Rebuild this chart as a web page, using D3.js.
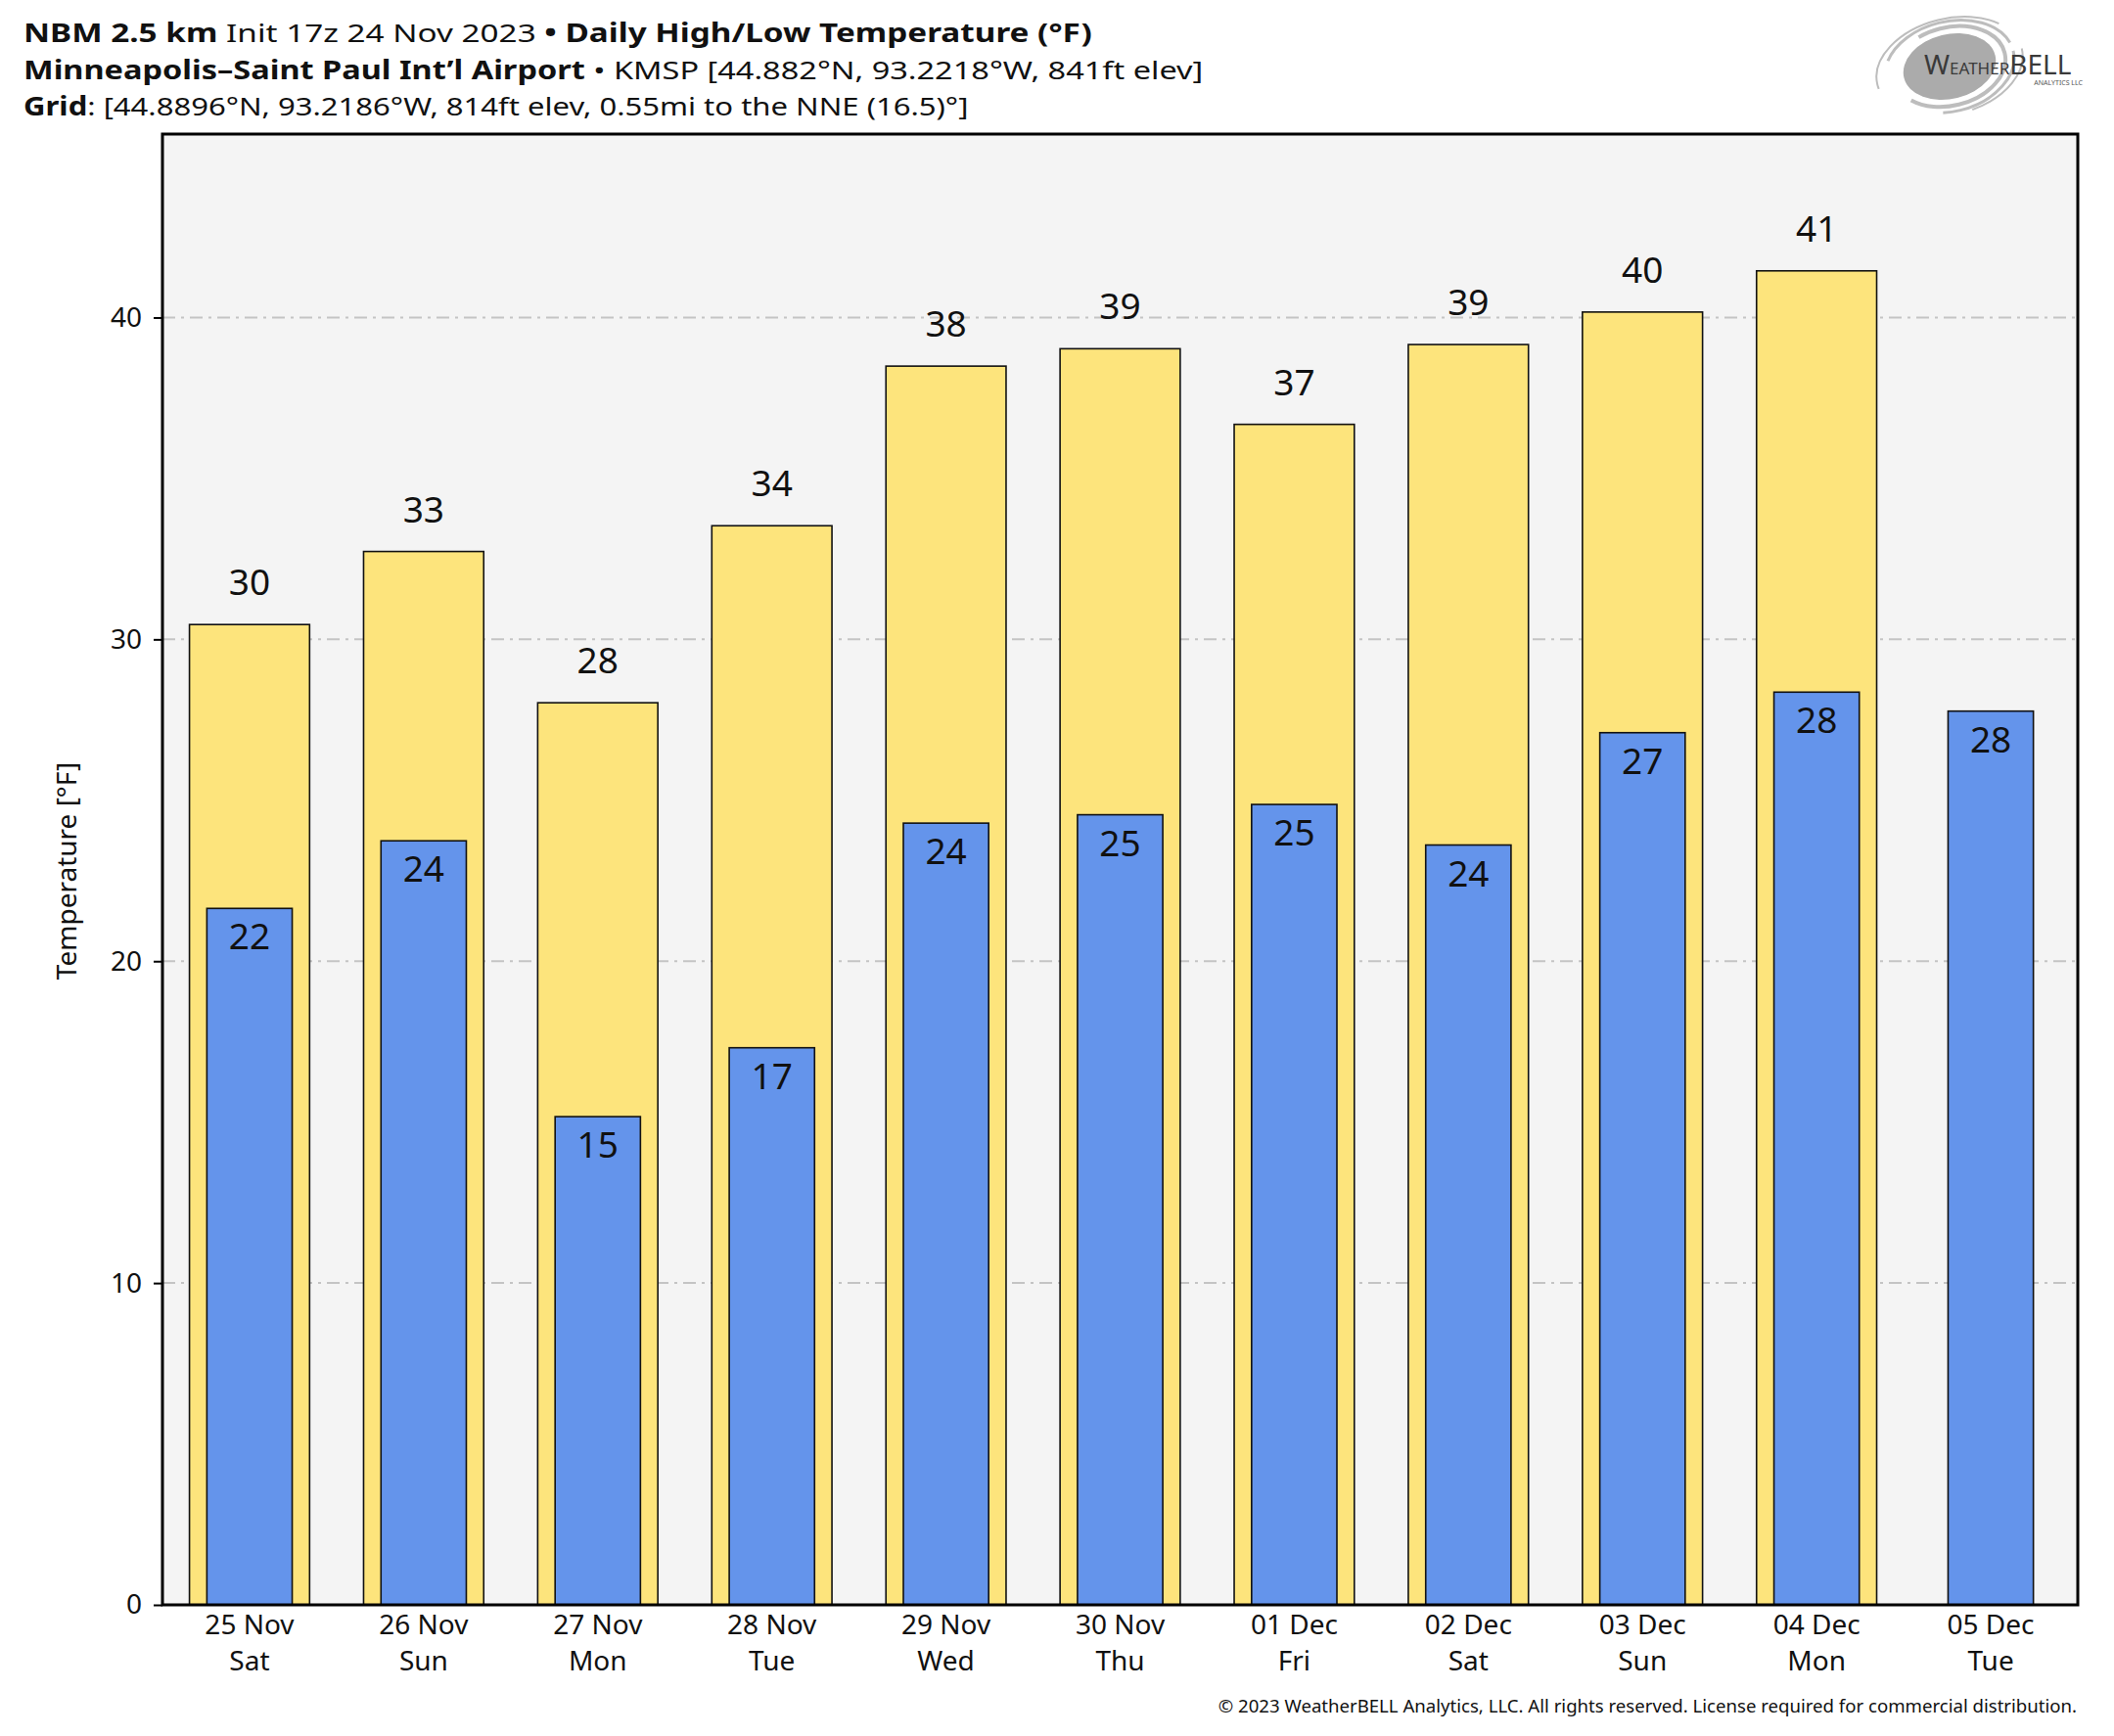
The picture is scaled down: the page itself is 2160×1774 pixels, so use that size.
<!DOCTYPE html>
<html>
<head>
<meta charset="utf-8">
<script src="https://cdn.jsdelivr.net/npm/d3@7"></script>
<style>
  body { margin: 0; background: #fff; }
  text { font-family: "Noto Sans", sans-serif; }
</style>
</head>
<body>
<script>
// daily forecast values
const dates = ["25 Nov", "26 Nov", "27 Nov", "28 Nov", "29 Nov", "30 Nov", "01 Dec", "02 Dec", "03 Dec", "04 Dec", "05 Dec"];
const weekdays = ["Sat", "Sun", "Mon", "Tue", "Wed", "Thu", "Fri", "Sat", "Sun", "Mon", "Tue"];
const highs = [30.46, 32.73, 28.03, 33.53, 38.49, 39.03, 36.68, 39.16, 40.17, 41.45, null];
const lows = [21.64, 23.74, 15.17, 17.31, 24.29, 24.55, 24.87, 23.61, 27.10, 28.36, 27.77];
const yTicks = [0, 10, 20, 30, 40];

const W = 2160, H = 1774;
const pl = 166, pr = 2123, pt = 137, pb = 1640;

const svg = d3.select("body").append("svg")
    .attr("width", W)
    .attr("height", H);

const x = d3.scaleBand()
    .domain(d3.range(dates.length))
    .range([pl, pr])
    .padding(0);

const y = d3.scaleLinear()
    .domain([0, 45.7])
    .range([pb, pt]);

// plot background
svg.append("rect")
    .attr("x", pl).attr("y", pt)
    .attr("width", pr - pl).attr("height", pb - pt)
    .attr("fill", "#f4f4f4");

// dash-dot grid
svg.append("g")
  .selectAll("line")
  .data(yTicks.filter(d => d > 0))
  .join("line")
    .attr("x1", pl).attr("x2", pr)
    .attr("y1", d => y(d)).attr("y2", d => y(d))
    .attr("stroke", "#c4c4c4")
    .attr("stroke-width", 2)
    .attr("stroke-dasharray", "13,6,3,6");

const bw = x.bandwidth();
const hiW = bw * 0.69, loW = bw * 0.49;

// highs (yellow)
svg.append("g")
  .selectAll("rect")
  .data(highs.map((v, i) => ({ v, i })).filter(d => d.v != null))
  .join("rect")
    .attr("x", d => x(d.i) + (bw - hiW) / 2)
    .attr("y", d => y(d.v))
    .attr("width", hiW)
    .attr("height", d => y(0) - y(d.v))
    .attr("fill", "#fde47c")
    .attr("stroke", "#111")
    .attr("stroke-width", 1.6);

// lows (blue)
svg.append("g")
  .selectAll("rect")
  .data(lows.map((v, i) => ({ v, i })))
  .join("rect")
    .attr("x", d => x(d.i) + (bw - loW) / 2)
    .attr("y", d => y(d.v))
    .attr("width", loW)
    .attr("height", d => y(0) - y(d.v))
    .attr("fill", "#6494eb")
    .attr("stroke", "#111")
    .attr("stroke-width", 1.6);

// value labels
svg.append("g")
  .selectAll("text")
  .data(highs.map((v, i) => ({ v, i })).filter(d => d.v != null))
  .join("text")
    .attr("x", d => x(d.i) + bw / 2)
    .attr("y", d => y(d.v) - 30)
    .attr("text-anchor", "middle")
    .attr("font-size", 37)
    .attr("fill", "#111")
    .text(d => Math.round(d.v));

svg.append("g")
  .selectAll("text")
  .data(lows.map((v, i) => ({ v, i })))
  .join("text")
    .attr("x", d => x(d.i) + bw / 2)
    .attr("y", d => y(d.v) + 42)
    .attr("text-anchor", "middle")
    .attr("font-size", 37)
    .attr("fill", "#111")
    .text(d => Math.round(d.v));

// frame
svg.append("rect")
    .attr("x", pl).attr("y", pt)
    .attr("width", pr - pl).attr("height", pb - pt)
    .attr("fill", "none")
    .attr("stroke", "#000")
    .attr("stroke-width", 3);

// y axis
const yAxis = svg.append("g")
    .attr("transform", `translate(${pl},0)`)
    .call(d3.axisLeft(y).tickValues(yTicks).tickSize(9).tickPadding(12));
yAxis.select(".domain").remove();
yAxis.selectAll("line").attr("stroke", "#000").attr("stroke-width", 2);
yAxis.selectAll("text")
    .attr("font-size", 28)
    .attr("fill", "#111")
    .style("font-family", "Noto Sans");

// x axis, two-line labels
const xAxis = svg.append("g")
    .attr("transform", `translate(0,${pb})`)
    .call(d3.axisBottom(x).tickSize(0).tickFormat(""));
xAxis.select(".domain").remove();
xAxis.selectAll(".tick").each(function(d) {
  const t = d3.select(this).append("text")
      .attr("text-anchor", "middle")
      .attr("fill", "#111")
      .attr("font-size", 28)
      .style("font-family", "Noto Sans");
  t.append("tspan").attr("x", 0).attr("y", 30).text(dates[d]);
  t.append("tspan").attr("x", 0).attr("y", 67).text(weekdays[d]);
});

// y label
svg.append("text")
    .attr("transform", `translate(78,890) rotate(-90)`)
    .attr("text-anchor", "middle")
    .attr("font-size", 28)
    .attr("fill", "#111")
    .text("Temperature [°F]");

// header: wide-set text, stretched to the reference line widths
const header = [
  [["NBM 2.5 km", true], [" Init 17z 24 Nov 2023 ", false], ["• Daily High/Low Temperature (°F)", true]],
  [["Minneapolis–Saint Paul Int’l Airport", true], [" • KMSP [44.882°N, 93.2218°W, 841ft elev]", false]],
  [["Grid", true], [": [44.8896°N, 93.2186°W, 814ft elev, 0.55mi to the NNE (16.5)°]", false]]
];
const lineY = [43, 81, 118];
const lineW = [1092, 1206, 966];
header.forEach((parts, k) => {
  const t = svg.append("text")
      .attr("x", 0).attr("y", 0)
      .attr("font-size", 26)
      .attr("fill", "#111");
  parts.forEach(([s, b]) => t.append("tspan").attr("font-weight", b ? "bold" : "normal").text(s));
  const w = t.node().getComputedTextLength();
  t.attr("transform", `translate(24,${lineY[k]}) scale(${lineW[k] / w},1)`);
});

// copyright
svg.append("text")
    .attr("x", 2122).attr("y", 1750)
    .attr("text-anchor", "end")
    .attr("font-size", 18.6)
    .attr("fill", "#111")
    .text("© 2023 WeatherBELL Analytics, LLC. All rights reserved. License required for commercial distribution.");

// logo
const logo = svg.append("g").attr("transform", "translate(1992,68) rotate(-14)");
logo.append("ellipse").attr("rx", 48).attr("ry", 33).attr("fill", "#ababab");
[[58, 40], [67, 46], [76, 49]].forEach(([rx, ry], k) => {
  logo.append("ellipse")
      .attr("rx", rx).attr("ry", ry)
      .attr("fill", "none")
      .attr("stroke", "#bdbdbd")
      .attr("stroke-width", 4 - k)
      .attr("stroke-dasharray", `${rx * 2.2} ${rx * 1.4}`)
      .attr("stroke-dashoffset", k * 40);
});
const wb = svg.append("text")
    .attr("x", 1966).attr("y", 76)
    .attr("font-family", "DejaVu Serif")
    .attr("fill", "#3a3a3a");
wb.append("tspan").attr("font-size", 28).text("W");
wb.append("tspan").attr("font-size", 17).text("EATHER");
wb.append("tspan").attr("font-size", 28).text("BELL");
svg.append("text")
    .attr("x", 2128).attr("y", 87)
    .attr("text-anchor", "end")
    .attr("font-family", "DejaVu Serif")
    .attr("font-size", 7)
    .attr("fill", "#555")
    .text("ANALYTICS LLC");
</script>
</body>
</html>
